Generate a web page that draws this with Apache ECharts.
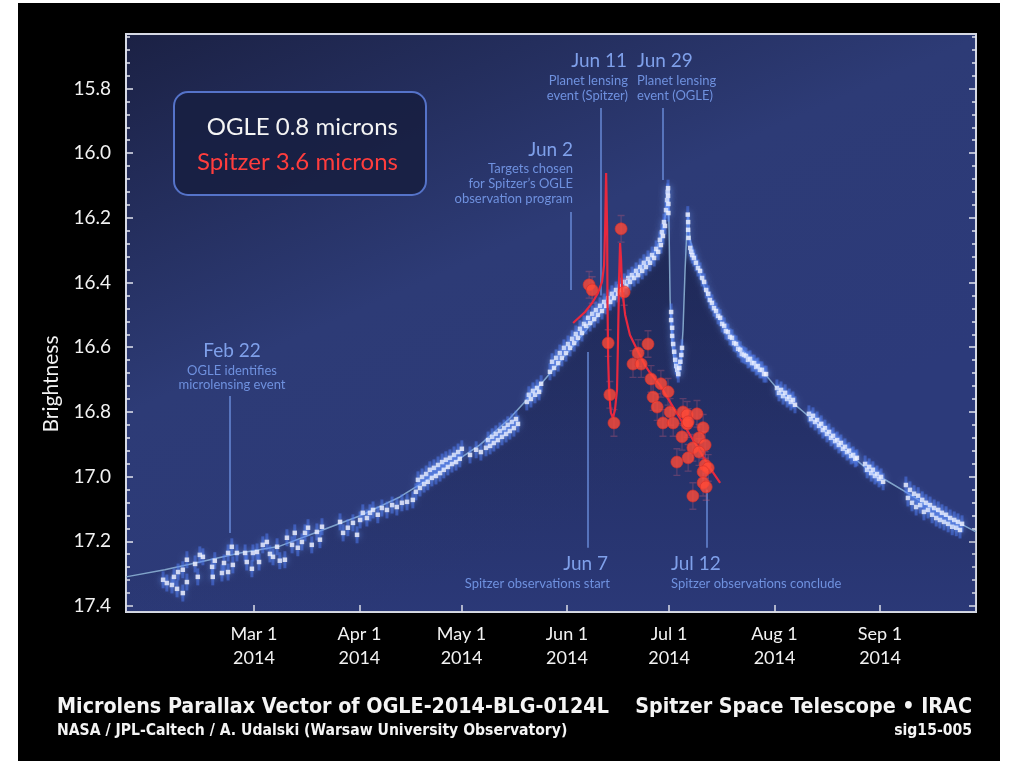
<!DOCTYPE html>
<html>
<head>
<meta charset="utf-8">
<script src="https://cdn.jsdelivr.net/npm/echarts@6/dist/echarts.min.js"></script>
<style>
html,body{margin:0;padding:0;background:#fff;}
#c{width:1012px;height:761px;}
</style>
</head>
<body>
<div id="c"></div>
<script>
// ---- axis ticks (days since 2014-01-01, magnitudes) ----
const monthDays = [59, 90, 120, 151, 181, 212, 243];
const monthLabels = ['Mar 1\n2014', 'Apr 1\n2014', 'May 1\n2014', 'Jun 1\n2014', 'Jul 1\n2014', 'Aug 1\n2014', 'Sep 1\n2014'];
const magTicks = [15.8, 16.0, 16.2, 16.4, 16.6, 16.8, 17.0, 17.2, 17.4];

// ---- OGLE observations ----
const ogleDay = [
 32.3,33.4,34.9,36.4,38.1,35.5,36.7,38.1,39.3,39.3,41.7,42.5,43.1,44.0,46.7,46.9,47.5,49.6,50.2,51.4,51.4,52.5,52.8,54.0,56.4,56.9,58.4,58.7,59.9,60.5,61.6,62.8,63.7,64.6,65.8,66.6,68.1,68.7,70.2,71.0,71.9,73.1,74.0,74.9,76.0,77.5,78.4,79.0,
 84.3,85.2,86.6,88.1,89.3,90.2,91.0,92.2,93.1,94.0,95.4,96.6,98.1,99.6,101.0,102.5,104.0,105.7,
 106.6,107.2,107.8,108.4,109.0,109.6,110.1,110.7,111.3,111.9,112.5,113.1,113.7,114.3,114.8,115.4,116.0,116.6,117.2,117.8,118.4,119.0,119.5,120.1,
 122.5,124.3,125.7,
 127.2,127.8,128.4,129.0,129.5,130.1,130.7,131.3,131.9,132.5,133.1,133.6,134.2,134.8,135.4,136.0,136.6,
 139.2,139.8,140.4,141.0,141.6,142.2,142.8,143.4,
 146.0,146.6,147.2,147.8,148.4,148.9,149.5,150.1,150.7,151.3,151.9,152.5,153.1,153.6,154.2,154.8,155.4,156.0,
 156.6,157.2,157.8,158.4,159.0,159.5,160.1,160.7,161.3,161.9,162.5,163.1,163.7,164.2,164.8,165.4,166.0,166.6,167.2,167.8,168.4,169.0,169.5,170.1,170.7,171.3,171.9,172.5,173.1,173.6,174.2,174.8,175.4,176.0,176.6,177.2,177.8,178.3,178.6,178.9,179.2,179.5,179.8,180.1,180.4,180.6,180.7,180.7,180.8,180.8,
 181.6,181.6,181.9,181.9,182.2,182.5,182.8,183.1,183.4,183.7,184.0,184.3,184.6,184.8,
 186.5,186.6,186.6,186.7,
 187.2,187.5,187.8,188.3,188.9,189.5,190.1,190.7,191.3,191.9,192.5,193.0,193.6,194.2,194.8,195.4,196.0,196.6,197.2,197.7,198.3,198.9,199.5,200.1,200.7,201.3,201.9,202.4,203.0,203.6,204.2,204.8,205.4,206.0,206.6,207.1,207.7,208.3,208.9,209.5,
 212.7,213.3,213.9,214.5,215.1,215.7,216.3,216.8,217.4,218.0,
 222.1,222.7,223.3,223.9,224.5,225.1,225.7,226.2,226.8,227.4,228.0,228.6,229.2,229.8,230.4,230.9,231.5,232.1,232.7,233.3,233.9,234.5,235.1,235.7,236.2,
 238.6,239.2,239.8,240.4,240.9,241.5,242.1,242.7,243.3,243.9,
 250.6,251.2,251.8,252.4,253.0,253.6,254.2,254.8,255.4,255.9,256.5,257.1,257.7,258.3,258.9,259.5,260.1,260.6,261.2,261.8,262.4,263.0,263.6,264.2,264.8,265.4,265.9,266.5,267.1
];
const ogleMag = [
 17.319,17.329,17.335,17.347,17.360,17.310,17.295,17.288,17.257,17.326,17.270,17.310,17.242,17.248,17.279,17.310,17.260,17.298,17.267,17.236,17.295,17.217,17.273,17.236,17.236,17.264,17.285,17.236,17.233,17.264,17.211,17.202,17.239,17.248,17.217,17.260,17.257,17.189,17.211,17.174,17.220,17.202,17.174,17.158,17.211,17.171,17.195,17.155,
 17.140,17.174,17.158,17.143,17.180,17.134,17.112,17.128,17.112,17.103,17.118,17.097,17.103,17.088,17.094,17.081,17.078,17.072,
 17.047,17.010,17.035,17.001,17.023,16.992,17.016,16.979,17.004,16.973,16.998,16.964,16.989,16.955,16.979,16.948,16.970,16.942,16.961,16.933,16.955,16.924,16.945,16.914,
 16.933,16.917,16.924,
 16.911,16.887,16.905,16.877,16.896,16.868,16.887,16.859,16.877,16.850,16.868,16.840,16.859,16.831,16.850,16.822,16.837,
 16.769,16.747,16.760,16.735,16.747,16.726,16.738,16.713,
 16.676,16.645,16.664,16.633,16.649,16.618,16.633,16.602,16.618,16.590,16.602,16.574,16.587,16.559,16.571,16.543,16.556,16.528,
 16.534,16.509,16.525,16.497,16.513,16.485,16.500,16.472,16.488,16.460,16.472,16.448,16.460,16.435,16.448,16.423,16.435,16.411,16.423,16.398,16.411,16.386,16.398,16.377,16.386,16.364,16.377,16.352,16.364,16.339,16.352,16.327,16.339,16.315,16.324,16.296,16.305,16.268,16.284,16.244,16.256,16.213,16.225,16.176,16.145,16.120,16.108,16.132,16.157,16.185,
 16.491,16.516,16.540,16.565,16.590,16.614,16.639,16.658,16.670,16.683,16.664,16.645,16.624,16.602,
 16.190,16.213,16.237,16.262,
 16.293,16.305,16.315,16.324,16.339,16.355,16.364,16.386,16.398,16.423,16.435,16.454,16.463,16.479,16.488,16.503,16.509,16.528,16.534,16.550,16.553,16.568,16.571,16.587,16.590,16.605,16.608,16.621,16.624,16.627,16.639,16.636,16.649,16.649,16.661,16.658,16.670,16.670,16.683,16.683,
 16.726,16.741,16.732,16.751,16.741,16.760,16.754,16.769,16.763,16.778,
 16.806,16.822,16.812,16.831,16.825,16.843,16.837,16.856,16.850,16.868,16.862,16.880,16.874,16.890,16.887,16.902,16.896,16.914,16.908,16.924,16.920,16.936,16.933,16.945,16.942,
 16.961,16.979,16.970,16.989,16.979,16.998,16.992,17.007,17.001,17.016,
 17.026,17.066,17.041,17.081,17.053,17.094,17.059,17.088,17.072,17.109,17.081,17.103,17.088,17.118,17.097,17.128,17.103,17.134,17.112,17.140,17.118,17.146,17.128,17.155,17.134,17.158,17.140,17.165,17.146
];

// ---- OGLE model curve ----
const modelDay = [21.4,32.8,43.1,54.9,66.6,78.4,90.2,101.9,113.7,125.4,134.3,143.1,148.9,154.8,160.7,166.6,172.5,175.4,177.5,178.9,179.8,180.4,180.7,181.0,181.3,181.9,182.8,183.6,184.5,185.1,185.7,186.3,186.6,187.2,189.5,192.2,196.0,199.8,204.8,208.6,213.6,216.6,223.3,227.4,232.1,239.2,246.0,251.0,257.7,264.5,271.2];
const modelMag = [17.310,17.288,17.264,17.236,17.215,17.168,17.121,17.063,16.985,16.902,16.819,16.717,16.645,16.571,16.494,16.423,16.361,16.330,16.293,16.244,16.200,16.145,16.104,16.237,16.454,16.593,16.664,16.679,16.645,16.546,16.361,16.222,16.185,16.270,16.355,16.440,16.516,16.577,16.633,16.676,16.738,16.765,16.825,16.865,16.913,16.977,17.019,17.050,17.094,17.134,17.171];

// ---- Spitzer observations ----
const spitzerDay = [157.5,158.4,166.9,167.8,163.1,174.8,171.9,170.4,172.8,163.6,164.8,175.7,178.6,180.7,176.3,177.5,181.3,185.1,186.3,189.2,179.2,182.2,186.3,186.6,191.0,184.8,189.8,191.6,188.0,189.8,186.6,183.3,191.6,192.5,191.0,191.0,191.9,188.0];
const spitzerMag = [16.407,16.423,16.234,16.429,16.587,16.590,16.618,16.652,16.652,16.747,16.834,16.698,16.713,16.738,16.754,16.785,16.800,16.800,16.809,16.806,16.834,16.834,16.837,16.831,16.849,16.877,16.880,16.902,16.911,16.924,16.942,16.955,16.964,16.973,16.985,17.019,17.032,17.060];

// ---- Spitzer model curve ----
const spModelDay = [152.8,156.3,158.4,160.1,161.3,161.9,162.2,162.5,162.8,162.9,163.1,163.4,163.9,164.5,165.1,165.7,166.0,166.3,166.6,166.9,167.2,168.1,169.5,171.6,173.9,175.4,178.3,182.2,185.7,189.2,192.8,196.0];
const spModelMag = [16.525,16.491,16.463,16.432,16.398,16.346,16.237,16.061,16.237,16.454,16.639,16.741,16.803,16.818,16.794,16.732,16.577,16.392,16.278,16.330,16.423,16.500,16.562,16.608,16.655,16.679,16.717,16.785,16.846,16.907,16.970,17.019];

// ---- annotations (day, line top mag, line bottom mag) ----
const annotDay = [52, 152, 161, 179, 157, 192];
const annotTop = [16.751, 16.182, 15.860, 15.860, 16.615, 17.041];
const annotBottom = [17.174, 16.423, 16.440, 16.083, 17.220, 17.220];

const X_MIN = 21.4, X_MAX = 271.2, Y_MIN = 15.6315, Y_MAX = 17.4186;
const minorTicks = [];
for (let i = 0; i < magTicks.length; i++) {
  for (let k = 1; k <= 4; k++) {
    const v = +(magTicks[i] - 0.04 * k).toFixed(2);
    if (v > Y_MIN) minorTicks.push(v);
  }
}

const chart = echarts.init(document.getElementById('c'));
const LATO = 'Lato, "Open Sans", sans-serif';
const NARROW = '"Liberation Sans Narrow", "DejaVu Sans Condensed", sans-serif';
const annColor = '#7fa0ea';
const annSub = '#6f91df';

function yAx(pos, ticks, len, showLabel) {
  return {
    type: 'value', inverse: true, min: Y_MIN, max: Y_MAX, position: pos,
    axisLine: {show: false}, splitLine: {show: false},
    axisTick: {show: true, inside: true, length: len, customValues: ticks, lineStyle: {color: '#e3e6ef', width: 1.5}},
    axisLabel: showLabel ? {show: true, customValues: ticks, margin: 15, color: '#f2f2f2', fontSize: 19, fontFamily: LATO,
      formatter: v => (+v).toFixed(1)} : {show: false}
  };
}

function txt(text, x, y, size, color, align, extra) {
  return {
    type: 'text', z: 100,
    style: Object.assign({text: text, x: x, y: y, fill: color, fontSize: size, fontFamily: LATO,
      textAlign: align, align: align, textVerticalAlign: 'middle', verticalAlign: 'middle'}, extra || {})
  };
}

const option = {
  backgroundColor: '#000',
  animation: false,
  grid: {
    left: 126, right: 36, top: 34, bottom: 149, show: true,
    borderColor: '#d6d9e4', borderWidth: 2,
    backgroundColor: {type: 'linear', x: 0, y: 0, x2: 0.3, y2: 1, colorStops: [
      {offset: 0, color: '#1b2144'}, {offset: 0.55, color: '#2d3b76'}, {offset: 1, color: '#2c3a7a'}]}
  },
  xAxis: {
    type: 'value', min: X_MIN, max: X_MAX,
    axisLine: {show: false}, splitLine: {show: false},
    axisTick: {show: true, inside: true, length: 7, customValues: monthDays, lineStyle: {color: '#e3e6ef', width: 1.5}},
    axisLabel: {show: true, customValues: monthDays, margin: 10, color: '#f2f2f2', fontSize: 18, lineHeight: 24, fontFamily: LATO,
      formatter: v => monthLabels[monthDays.indexOf(Math.round(v))]}
  },
  yAxis: [yAx('left', magTicks, 7, true), yAx('left', minorTicks, 4, false), yAx('right', magTicks, 7, false), yAx('right', minorTicks, 4, false)],
  series: [
    {
      type: 'line', name: 'OGLE model', data: modelDay.map((d, i) => [d, modelMag[i]]),
      showSymbol: false, symbol: 'none', z: 2,
      lineStyle: {color: '#8fb6d8', width: 1.5, opacity: 0.85},
      areaStyle: {origin: 'end', color: {type: 'linear', x: 0, y: 0, x2: 0, y2: 1, colorStops: [
        {offset: 0, color: 'rgba(10,14,40,0.65)'}, {offset: 1, color: 'rgba(10,14,40,0.05)'}]}},
      markLine: {
        silent: true, symbol: ['none', 'none'], label: {show: false},
        lineStyle: {color: '#7196e6', width: 1.5, type: 'solid', opacity: 0.85},
        data: annotDay.map((d, i) => [{coord: [d, annotTop[i]]}, {coord: [d, annotBottom[i]]}])
      }
    },
    {
      type: 'scatter', name: 'OGLE err', data: ogleDay.map((d, i) => [d, ogleMag[i]]), z: 3,
      symbol: 'rect', symbolSize: [3, 17], itemStyle: {color: 'rgba(80,125,250,0.6)'}
    },
    {
      type: 'scatter', name: 'OGLE 0.8 microns', data: ogleDay.map((d, i) => [d, ogleMag[i]]), z: 4,
      symbol: 'rect', symbolSize: 4.5,
      itemStyle: {color: '#f7f8ff', shadowBlur: 6, shadowColor: 'rgba(110,160,255,0.95)'}
    },
    {
      type: 'scatter', name: 'Spitzer err', data: spitzerDay.map((d, i) => [d, spitzerMag[i]]), z: 5,
      symbol: 'path://M0,0H6V1H0Z M2.5,1H3.5V19H2.5Z M0,19H6V20H0Z', symbolSize: [7, 28],
      itemStyle: {color: 'rgba(190,90,120,0.45)'}
    },
    {
      type: 'line', name: 'Spitzer model', data: spModelDay.map((d, i) => [d, spModelMag[i]]),
      showSymbol: false, symbol: 'none', z: 6,
      lineStyle: {color: '#e8283f', width: 2.2}
    },
    {
      type: 'scatter', name: 'Spitzer 3.6 microns', data: spitzerDay.map((d, i) => [d, spitzerMag[i]]), z: 7,
      symbol: 'circle', symbolSize: 12,
      itemStyle: {color: '#ff4a37', borderColor: '#d8302a', borderWidth: 0.8}
    }
  ],
  graphic: [
    {type: 'rect', z: 50, shape: {x: 0, y: 0, width: 18, height: 761}, style: {fill: '#fff'}},
    {type: 'rect', z: 50, shape: {x: 1000, y: 0, width: 12, height: 761}, style: {fill: '#fff'}},
    {type: 'rect', z: 50, shape: {x: 0, y: 0, width: 1012, height: 3}, style: {fill: '#fff'}},
    // legend box
    {type: 'rect', z: 90, shape: {x: 174, y: 92, width: 252, height: 103, r: 14},
      style: {fill: 'rgba(24,31,66,0.92)', stroke: '#5573c9', lineWidth: 2}},
    txt('OGLE 0.8 microns', 398, 127, 24, '#f4f4f4', 'right'),
    txt('Spitzer 3.6 microns', 398, 162, 24, '#ff3d3d', 'right'),
    // y title
    Object.assign(txt('Brightness', 0, 0, 21, '#f2f2f2', 'center'), {x: 51, y: 384, rotation: Math.PI / 2}),
    // annotations
    txt('Feb 22', 232, 351, 19, annColor, 'center'),
    txt('OGLE identifies', 232, 371, 13, annSub, 'center'),
    txt('microlensing event', 232, 385, 13, annSub, 'center'),
    txt('Jun 2', 573, 150, 19, annColor, 'right'),
    txt('Targets chosen', 573, 169, 13, annSub, 'right'),
    txt('for Spitzer\u2019s OGLE', 573, 184, 13, annSub, 'right'),
    txt('observation program', 573, 199, 13, annSub, 'right'),
    txt('Jun 11', 627, 61, 19, annColor, 'right'),
    txt('Planet lensing', 628, 81, 13, annSub, 'right'),
    txt('event (Spitzer)', 628, 96, 13, annSub, 'right'),
    txt('Jun 29', 637, 61, 19, annColor, 'left'),
    txt('Planet lensing', 637, 81, 13, annSub, 'left'),
    txt('event (OGLE)', 637, 96, 13, annSub, 'left'),
    txt('Jun 7', 608, 564, 19, annColor, 'right'),
    txt('Spitzer observations start', 610, 584, 13, annSub, 'right'),
    txt('Jul 12', 671, 564, 19, annColor, 'left'),
    txt('Spitzer observations conclude', 671, 584, 13, annSub, 'left'),
    // bottom titles
    txt('Microlens Parallax Vector of OGLE-2014-BLG-0124L', 57, 707, 21.3, '#f4f4f4', 'left', {fontFamily: NARROW, fontWeight: 'bold'}),
    txt('NASA / JPL-Caltech / A. Udalski (Warsaw University Observatory)', 57, 731, 15.6, '#f4f4f4', 'left', {fontFamily: NARROW, fontWeight: 'bold'}),
    txt('Spitzer Space Telescope \u2022 IRAC', 972, 707, 21.3, '#f4f4f4', 'right', {fontFamily: NARROW, fontWeight: 'bold'}),
    txt('sig15-005', 972, 731, 15.6, '#f4f4f4', 'right', {fontFamily: NARROW, fontWeight: 'bold'})
  ]
};
chart.setOption(option);
</script>
</body>
</html>
